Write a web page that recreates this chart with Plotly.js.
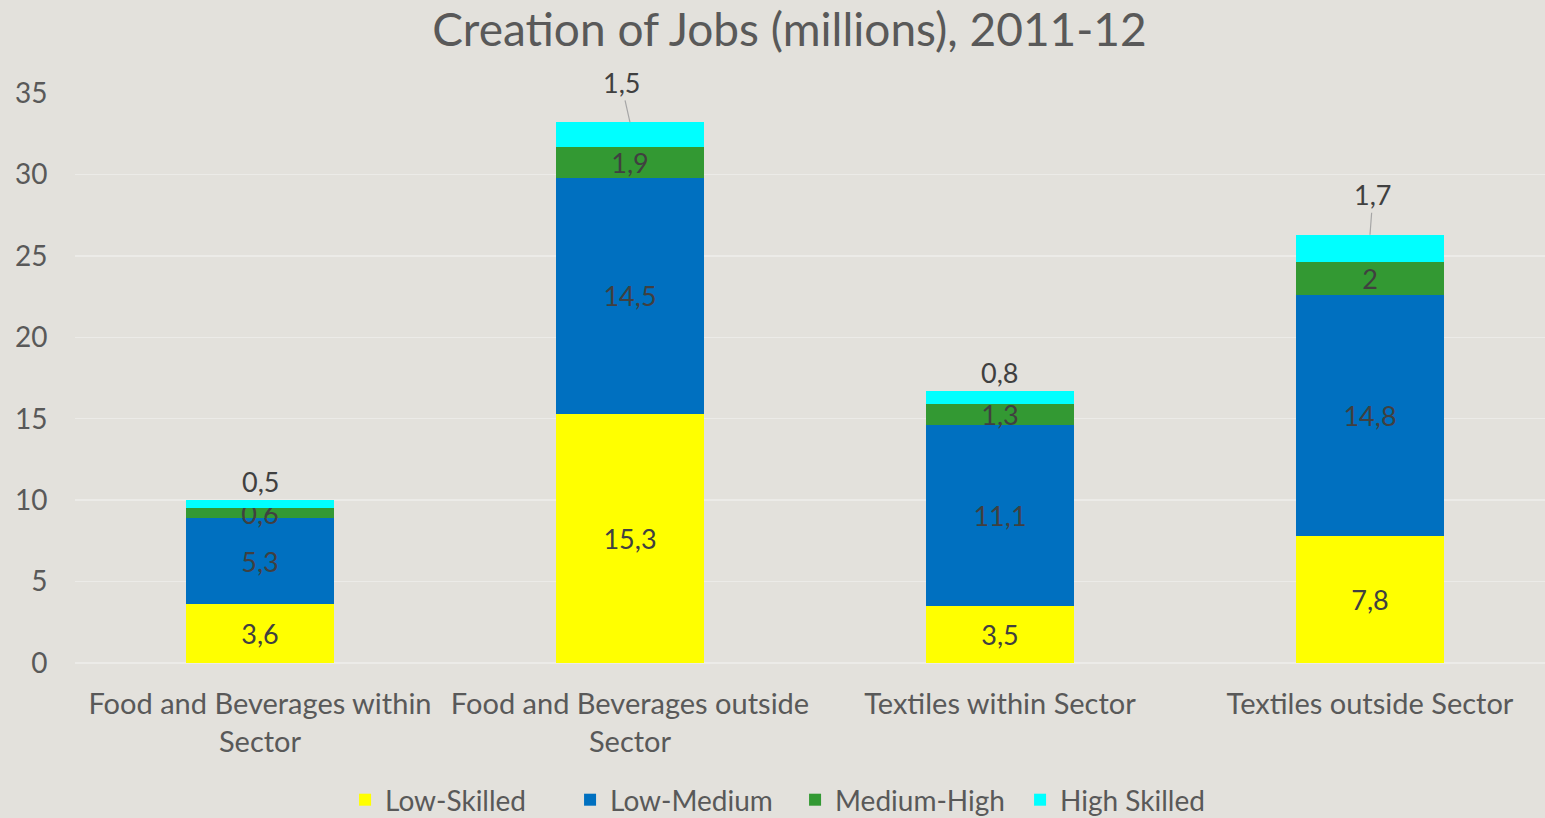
<!DOCTYPE html>
<html>
<head>
<meta charset="utf-8">
<script src="https://cdn.plot.ly/plotly-3.0.1.min.js"></script>
<style>
html,body{margin:0;padding:0;background:#e3e1dc;}
#chart{width:1545px;height:818px;}
</style>
</head>
<body>
<div id="chart"></div>
<script>
const categories = [
  "Food and Beverages within<br>Sector",
  "Food and Beverages outside<br>Sector",
  "Textiles within Sector",
  "Textiles outside Sector"
];
const seriesNames = ["Low-Skilled", "Low-Medium", "Medium-High", "High Skilled"];
const lowSkilled = [3.6, 15.3, 3.5, 7.8];
const lowMedium = [5.3, 14.5, 11.1, 14.8];
const mediumHigh = [0.6, 1.9, 1.3, 2.0];
const highSkilled = [0.5, 1.5, 0.8, 1.7];
const yTicks = [0, 5, 10, 15, 20, 25, 30, 35];

const colors = ["#FFFF00", "#0070C0", "#339933", "#00FFFF"];
const fmt = v => String(v).replace('.', ',');
const FONT = "Lato, 'Open Sans', sans-serif";

const allSeries = [lowSkilled, lowMedium, mediumHigh, highSkilled];
const traces = allSeries.map((vals, i) => ({
  type: 'bar',
  name: seriesNames[i],
  x: categories,
  y: vals,
  marker: {color: colors[i], line: {width: 0}},
  text: i < 3 ? vals.map(fmt) : vals.map(() => ''),
  textposition: i < 3 ? 'inside' : 'none',
  insidetextanchor: 'middle',
  textangle: 0,
  constraintext: 'none',
  textfont: {family: FONT, size: 27, color: '#404040'},
  hoverinfo: 'x+y+name'
}));

const totals = categories.map((c, k) => allSeries.reduce((s, a) => s + a[k], 0));
// annotation style per category for the top (High Skilled) labels
const arrowCfg = [
  {arrow: false, ax: 0, ay: 0},
  {arrow: true, ax: -9, ay: -40},
  {arrow: false, ax: 0, ay: 0},
  {arrow: true, ax: 3, ay: -40}
];
const annotations = categories.map((c, k) => {
  const cfg = arrowCfg[k];
  const a = {
    x: c, y: totals[k], xref: 'x', yref: 'y',
    text: fmt(highSkilled[k]),
    font: {family: FONT, size: 27, color: '#404040'},
    showarrow: cfg.arrow
  };
  if (cfg.arrow) {
    Object.assign(a, {ax: cfg.ax, ay: cfg.ay, arrowhead: 0, arrowwidth: 1.2, arrowcolor: '#a6a6a6', standoff: 0, startstandoff: 0});
  } else {
    Object.assign(a, {yanchor: 'bottom', yshift: 0});
  }
  return a;
});

const layout = {
  width: 1545, height: 818,
  paper_bgcolor: '#e3e1dc',
  plot_bgcolor: 'rgba(0,0,0,0)',
  barmode: 'stack',
  bargap: 0.6,
  margin: {l: 75, r: 0, t: 93, b: 155},
  font: {family: FONT, color: '#595959'},
  title: {
    text: 'Creation of Jobs (millions), 2011-12',
    font: {family: FONT, size: 46, color: '#595959'},
    x: 0.511, xref: 'container', xanchor: 'center',
    y: 0.963, yref: 'container', yanchor: 'middle'
  },
  xaxis: {
    type: 'category',
    range: [-0.5, 3.473],
    showgrid: false, zeroline: false, showline: false,
    ticks: 'outside', ticklen: 15, tickcolor: 'rgba(0,0,0,0)',
    tickfont: {family: FONT, size: 29, color: '#595959'},
    fixedrange: true
  },
  yaxis: {
    range: [0, 35],
    tickvals: yTicks,
    ticktext: yTicks.map(String),
    showgrid: true, gridcolor: '#ecebe8', gridwidth: 1.5,
    zeroline: true, zerolinecolor: '#ecebe8', zerolinewidth: 1.5,
    showline: false,
    ticks: 'outside', ticklen: 21, tickcolor: 'rgba(0,0,0,0)',
    tickfont: {family: FONT, size: 28, color: '#595959'},
    fixedrange: true
  },
  legend: {
    orientation: 'h',
    x: 0.5146, xref: 'container', xanchor: 'center',
    y: 0.022, yref: 'container', yanchor: 'middle',
    font: {family: FONT, size: 28, color: '#595959'},
    traceorder: 'normal',
    itemwidth: 30,
    entrywidth: 180,
    bgcolor: 'rgba(0,0,0,0)'
  },
  uniformtext: {mode: 'show', minsize: 27},
  annotations: annotations,
  showlegend: true
};

Plotly.newPlot('chart', traces, layout, {displayModeBar: false, staticPlot: true});
</script>
</body>
</html>
